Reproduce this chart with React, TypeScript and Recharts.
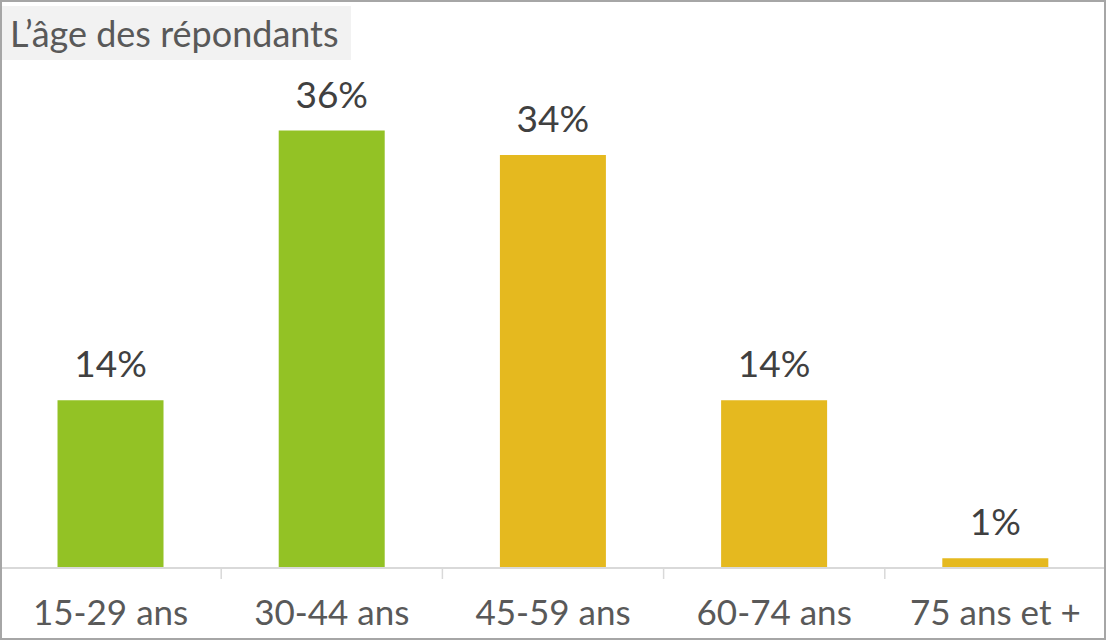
import React from 'react';
import { BarChart, Bar, XAxis, YAxis, Cell, LabelList } from 'recharts';

const categories = ['15-29 ans', '30-44 ans', '45-59 ans', '60-74 ans', '75 ans et +'];
const shares = [13.8, 36, 34, 13.8, 0.8];
const barColors = ['#93C225', '#93C225', '#E5B91F', '#E5B91F', '#E5B91F'];
const title = 'L\u2019âge des répondants';

const data = categories.map((c, i) => ({ name: c, value: shares[i] }));

const FONT = 'Lato, "Open Sans", sans-serif';

const CategoryTick = (props: any) => {
  const { x, y, payload, index } = props;
  const half = payload && typeof payload.offset === 'number' ? payload.offset : 0;
  const last = index === categories.length - 1;
  return (
    <g>
      {!last && half > 0 && (
        <line x1={x + half} x2={x + half} y1={y} y2={y + 11} stroke="#D9D9D9" strokeWidth={1.5} />
      )}
      <text
        x={x}
        y={y + 32}
        dy="0.71em"
        textAnchor="middle"
        fill="#595959"
        fontSize={35}
        fontFamily={FONT}
      >
        {payload.value}
      </text>
    </g>
  );
};

export default function App() {
  return (
    <div style={{ position: 'relative', width: 1106, height: 640, background: '#fff', fontFamily: FONT }}>
      <style>{'body{margin:0}'}</style>
      <BarChart
        width={1106}
        height={640}
        data={data}
        margin={{ top: 82, right: 0, bottom: 0, left: 0 }}
        barCategoryGap="26%"
      >
        <XAxis
          dataKey="name"
          height={72}
          axisLine={{ stroke: '#D9D9D9', strokeWidth: 2 }}
          tickLine={false}
          tickSize={0}
          tickMargin={0}
          interval={0}
          tick={CategoryTick}
        />
        <YAxis hide domain={[0, 40]} />
        <Bar dataKey="value" isAnimationActive={false}>
          {data.map((d, i) => (
            <Cell key={d.name} fill={barColors[i]} />
          ))}
          <LabelList
            dataKey="value"
            position="top"
            offset={23}
            formatter={(v: number) => `${Math.round(v)}%`}
            style={{ fill: '#404040', fontSize: 37, fontFamily: FONT }}
          />
        </Bar>
      </BarChart>
      <div
        style={{
          position: 'absolute',
          left: 2,
          top: 6,
          width: 349,
          height: 54,
          background: '#F2F2F2',
          color: '#595959',
          fontSize: 36,
          lineHeight: '54px',
          paddingLeft: 8,
          boxSizing: 'border-box',
          whiteSpace: 'nowrap',
        }}
      >
        {title}
      </div>
      <div
        style={{
          position: 'absolute',
          inset: 0,
          border: '2px solid #A6A6A6',
          pointerEvents: 'none',
        }}
      />
    </div>
  );
}
